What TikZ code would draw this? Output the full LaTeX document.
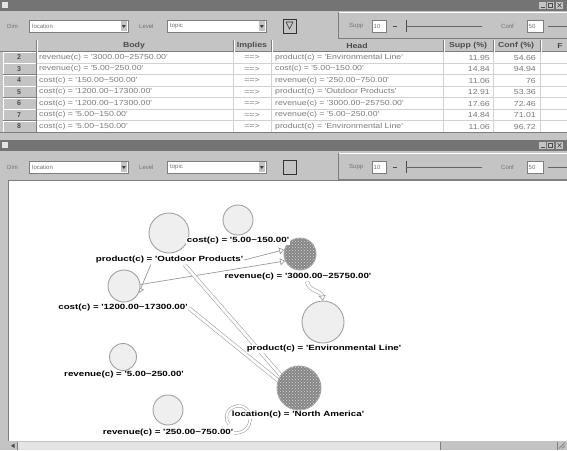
\documentclass[tikz,border=0pt]{standalone}
\usepackage{fontspec}
\setmainfont{Liberation Sans}
\newfontfamily\cellfont[FakeStretch=1.2]{Liberation Sans}
\newfontfamily\lblfont[FakeStretch=1.3]{Liberation Sans}
\usetikzlibrary{patterns,arrows.meta,calc}
\newcommand\rng{\textasciitilde}
\definecolor{winbg}{HTML}{C4C4C4}
\definecolor{winlight}{HTML}{E4E4E4}
\definecolor{windark}{HTML}{7E7E7E}
\definecolor{titlebar}{HTML}{747474}
\definecolor{gridln}{HTML}{D2D2D2}
\definecolor{cellfg}{HTML}{7A7A7A}
\definecolor{nodefill}{HTML}{EFEFEF}
\definecolor{nodeedge}{HTML}{A2A2A2}
\definecolor{hubfill}{HTML}{868686}
\definecolor{bandclr}{HTML}{9A9A9A}
\pgfdeclarelayer{chrome}
\pgfdeclarelayer{links}
\pgfsetlayers{chrome,links,main}
\begin{document}
\begin{tikzpicture}[x=1pt,y=-1pt,
  ui/.style={font=\fontsize{6}{6}\selectfont, text=black!55, inner sep=0},
  cell/.style={font=\cellfont\fontsize{7.3}{8}\selectfont, text=cellfg, inner sep=0},
  headcell/.style={font=\cellfont\fontsize{7.3}{8}\selectfont\bfseries, text=black!70, inner sep=0},
  rownum/.style={font=\fontsize{7}{8}\selectfont\bfseries, text=black!70, inner sep=0},
  combo/.style={draw=windark, fill=white, line width=0.7pt},
  soft/.style={circle, draw=nodeedge, fill=nodefill, line width=0.9pt, inner sep=0},
  hub/.style={circle, draw=nodeedge, fill=hubfill, line width=0.9pt, inner sep=0,
    postaction={pattern=crosshatch dots, pattern color=gray!30}},
  lbl/.style={font=\lblfont\fontsize{7.5}{8}\selectfont\bfseries, text=black, inner sep=0.8pt, fill=white},
  band/.style={draw=bandclr, double=white, double distance=2.8pt, line width=0.55pt},
  wire/.style={draw=bandclr, line width=0.7pt},
  tip/.style={-{Triangle[open,length=5pt,width=7pt]}},
]
\useasboundingbox (0,0) rectangle (567,450);

\begin{pgfonlayer}{chrome}
\fill[winbg] (0,0) rectangle (567,450);

% title bars of the two windows
\foreach \ty in {0,140}{
  \fill[titlebar] (0,\ty) rectangle (567,\ty+10.5);
  \fill[winlight] (2,\ty+1.5) rectangle (8,\ty+7.5);
  \foreach \bx in {539,547,556}
    \fill[winbg] (\bx,\ty+2) rectangle (\bx+7,\ty+8.5);
  \draw[black!70, line width=0.6pt] (540.5,\ty+7.3) -- (544.5,\ty+7.3);
  \draw[black!70, line width=0.5pt] (548.5,\ty+3) rectangle (552.5,\ty+7.5);
  \draw[black!70, line width=0.6pt] (557.5,\ty+3) -- (561.5,\ty+7.5) (557.5,\ty+7.5) -- (561.5,\ty+3);
}

% tool bars
\foreach \ty/\tb in {0/1,141/2}{
  \begin{scope}[shift={(0,\ty)}]
  \node[ui, anchor=west] (dim\tb) at (7,26) {Dim};
  \draw[combo] (29,20) rectangle (128,32);
  \node[ui, anchor=west] (dimval\tb) at (32,26) {location};
  \fill[winbg] (120.5,21) rectangle (127,31);
  \fill[black!75] (121.8,25) -- (125.8,25) -- (123.8,28) -- cycle;
  \node[ui, anchor=west] (lev\tb) at (139,26) {Level};
  \draw[combo] (167,20) rectangle (266,32);
  \node[ui, anchor=west] (levval\tb) at (170,26) {topic};
  \fill[winbg] (258.5,21) rectangle (265,31);
  \fill[black!75] (259.8,25) -- (263.8,25) -- (261.8,28) -- cycle;
  \draw[black!80, fill=winbg, line width=0.7pt] (283,19) rectangle (296,33);
  \ifnum\tb=1
    \draw[black!80, line width=0.6pt] (286,22) -- (293,22) (286,22) -- (289.5,29) -- (293,22);
  \fi
  \draw[windark, line width=0.8pt] (338,12) -- (338,38.5) -- (567,38.5);
  \draw[white, line width=0.6pt] (339,12) -- (567,12);
  \node[ui, anchor=west] (supplab\tb) at (349,26) {Supp};
  \draw[combo] (372,20) rectangle (386,32);
  \node[ui, anchor=west] (suppval\tb) at (373.5,26) {10};
  \draw[black!70] (393,26) -- (397,26);
  \draw[black!70, line width=0.8pt] (406,20) -- (406,32);
  \draw[black!60] (406,26) -- (482,26);
  \node[ui, anchor=west] (conflab\tb) at (501,26) {Conf};
  \draw[combo] (527,20) rectangle (543,32);
  \node[ui, anchor=west] (confval\tb) at (528.5,26) {50};
  \draw[black!60] (548,26) -- (567,26);
  \end{scope}
}

% rule table: header row
\fill[winbg] (0,40) rectangle (567,51.5);
\draw[windark] (0,51.5) -- (567,51.5);
\foreach \cx in {36,233,271,443,493,540}{
  \draw[windark] (\cx,40) -- (\cx,51.5);
  \draw[white] (\cx+1,40) -- (\cx+1,51.5);
}
\node[headcell] (hbody) at (134,46) {Body};
\node[headcell] (himp) at (252,46) {Implies};
\node[headcell] (hhead) at (357,46) {Head};
\node[headcell] (hsupp) at (468,46) {Supp (\%)};
\node[headcell] (hconf) at (516,46) {Conf (\%)};
\node[headcell] (hf) at (560,46) {F};

% rule table: cells
\fill[white] (37,51.5) rectangle (567,132);
\foreach \k in {1,...,7}
  \draw[gridln] (37,51.5+11.5*\k) -- (567,51.5+11.5*\k);
\foreach \cx in {233,271,443,493,540}
  \draw[gridln] (\cx,51.5) -- (\cx,132);
\foreach \k in {0,...,6}{
  \fill[winbg] (3,51.5+11.5*\k) rectangle (36,63+11.5*\k);
  \draw[white] (3,62.5+11.5*\k) -- (3,52+11.5*\k) -- (35.5,52+11.5*\k);
  \draw[windark] (3,63+11.5*\k) -- (36,63+11.5*\k) -- (36,52+11.5*\k);
}
\draw[windark] (0,132) -- (567,132);
\end{pgfonlayer}

\foreach \r/\b/\h/\s/\c [count=\k from 0] in {
 2/{revenue(c) = '3000.00\rng25750.00'}/{product(c) = 'Environmental Line'}/11.95/54.66,
 3/{revenue(c) = '5.00\rng250.00'}/{cost(c) = '5.00\rng150.00'}/14.84/94.94,
 4/{cost(c) = '150.00\rng500.00'}/{revenue(c) = '250.00\rng750.00'}/11.06/76,
 5/{cost(c) = '1200.00\rng17300.00'}/{product(c) = 'Outdoor Products'}/12.91/53.36,
 6/{cost(c) = '1200.00\rng17300.00'}/{revenue(c) = '3000.00\rng25750.00'}/17.66/72.46,
 7/{cost(c) = '5.00\rng150.00'}/{revenue(c) = '5.00\rng250.00'}/14.84/71.01,
 8/{cost(c) = '5.00\rng150.00'}/{product(c) = 'Environmental Line'}/11.06/96.72}{
  \node[rownum] (num\r) at (19,57.5+11.5*\k) {\r};
  \node[cell, anchor=west] (body\r) at (39,57.5+11.5*\k) {\b};
  \node[cell] (imp\r) at (252,57.5+11.5*\k) {==>};
  \node[cell, anchor=west] (head\r) at (275,57.5+11.5*\k) {\h};
  \node[cell, anchor=east] (supp\r) at (490,57.5+11.5*\k) {\s};
  \node[cell, anchor=east] (conf\r) at (536,57.5+11.5*\k) {\c};
}

% graph canvas and its scroll bar
\begin{pgfonlayer}{chrome}
\fill[white] (8,181) rectangle (567,441);
\draw[windark, line width=1pt] (8,441) -- (8,180.5) -- (567,180.5);
\fill[winbg] (8,441) rectangle (567,450);
\fill[winlight] (18,442) rectangle (440,449.5);
\draw[windark] (440,442) -- (440,449.5);
\draw[windark] (17.5,442) -- (17.5,449.5);
\fill[black!70] (11,445.8) -- (14.5,443.5) -- (14.5,448) -- cycle;
\draw[windark] (557,442) -- (557,449.5);
\draw[black!60, line width=0.5pt] (559,448.5) -- (565,442.5) (562,448.5) -- (565,445.5);
\end{pgfonlayer}

% itemset circles
\node[soft, minimum size=40] (nA) at (169,233) {};
\node[soft, minimum size=30] (nB) at (238,220) {};
\node[hub,  minimum size=32] (nC) at (300,254) {};
\node[soft, minimum size=32] (nD) at (124,286) {};
\node[soft, minimum size=42] (nE) at (323,322) {};
\node[soft, minimum size=27] (nF) at (123,357) {};
\node[hub,  minimum size=44] (nG) at (299,388) {};
\node[soft, minimum size=30] (nH) at (168,410) {};

% itemset labels
\node[lbl] (lA) at (169.5,260) {product(c) = 'Outdoor Products'};
\node[lbl] (lB) at (238,241) {cost(c) = '5.00\rng150.00'};
\node[lbl] (lC) at (298,277) {revenue(c) = '3000.00\rng25750.00'};
\node[lbl] (lD) at (123,308) {cost(c) = '1200.00\rng17300.00'};
\node[lbl] (lE) at (324,349) {product(c) = 'Environmental Line'};
\node[lbl] (lF) at (124,375) {revenue(c) = '5.00\rng250.00'};
\node[lbl] (lG) at (298,415) {location(c) = 'North America'};
\node[lbl] (lH) at (168,433) {revenue(c) = '250.00\rng750.00'};
\coordinate (loopend) at (229,424);

% rule connectors
\begin{pgfonlayer}{links}
\draw[wire, tip] (lA.east) -- (nC.165);
\draw[wire, tip] (nD.5) -- (nC.205);
\draw[wire, tip] ($(lA.south)!0.25!(lA.south west)$) -- (nD.-25);
\draw[band] ($(lA.south)!0.2!(lA.south east)$) -- (nG.145);
\draw[band] (lD.east) -- (nG.160);
\draw[band, tip] ($(lC.south)!0.12!(lC.south east)$) to[out=-80, in=100] (nE.north);
\draw[band, double distance=2pt] (lH.east) .. controls (255,434) and (255,405) .. (238,406)
  .. controls (226,407) and (224,419) .. (loopend);
\end{pgfonlayer}
\end{tikzpicture}
\end{document}
